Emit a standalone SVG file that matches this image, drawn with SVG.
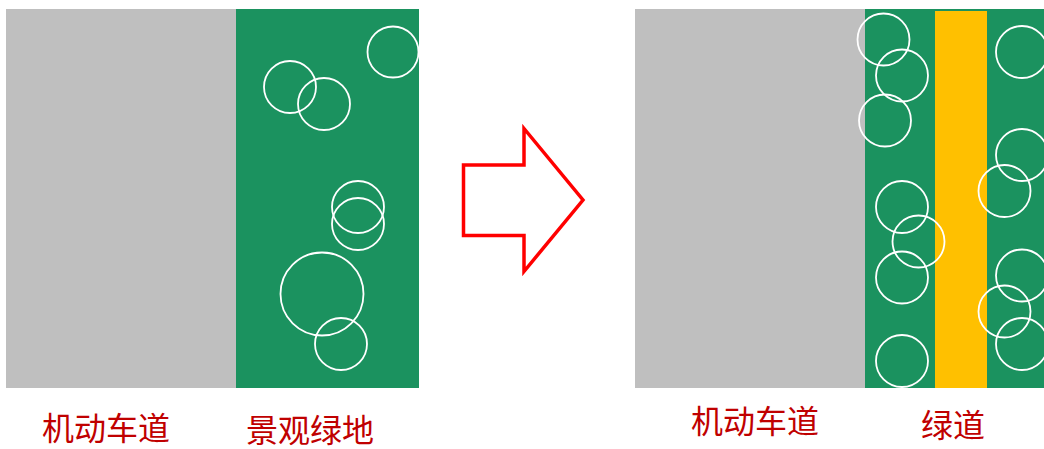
<svg xmlns="http://www.w3.org/2000/svg" width="1044" height="449" viewBox="0 0 1044 449">
<style>
.road{fill:#BFBFBF}
.green{fill:#1B925F}
.yellow{fill:#FFC000}
.tree{fill:none;stroke:#FFFFFF;stroke-width:1.8}
.lbl{font-family:"Noto Sans CJK SC","Noto Sans",sans-serif;font-size:32px;fill:#C00000}
.arrow{fill:#FFFFFF;stroke:#FF0000;stroke-width:3.5;stroke-linejoin:miter}
</style>
<rect width="1044" height="449" fill="#FFFFFF"/>
<g id="before">
  <rect class="road" x="6" y="9" width="230" height="379"/>
  <rect class="green" x="236" y="9" width="183" height="379"/>
  <g id="before-trees">
    <circle class="tree" cx="393" cy="52" r="25.5"/>
    <circle class="tree" cx="290" cy="87" r="26"/>
    <circle class="tree" cx="324" cy="104" r="26"/>
    <circle class="tree" cx="358" cy="207" r="26"/>
    <circle class="tree" cx="358" cy="224" r="26"/>
    <circle class="tree" cx="322" cy="294" r="41.5"/>
    <circle class="tree" cx="341" cy="344" r="26"/>
  </g>
  <text class="lbl" x="42" y="440">机动车道</text>
  <text class="lbl" x="246" y="442">景观绿地</text>
</g>
<g id="arrow">
  <polygon class="arrow" points="463.5,165 524,165 524,128.5 583,200 524,271.5 524,235.5 463.5,235.5"/>
</g>
<g id="after">
  <rect class="road" x="635" y="9" width="230" height="379"/>
  <rect class="green" x="865" y="9" width="179" height="379"/>
  <rect class="yellow" x="935" y="11" width="52" height="377"/>
  <g id="after-trees">
    <circle class="tree" cx="883.5" cy="39.5" r="26"/>
    <circle class="tree" cx="902" cy="75.5" r="26"/>
    <circle class="tree" cx="885" cy="120.5" r="26"/>
    <circle class="tree" cx="902" cy="207" r="26"/>
    <circle class="tree" cx="918.5" cy="241.5" r="26"/>
    <circle class="tree" cx="902" cy="277.5" r="26"/>
    <circle class="tree" cx="902" cy="361" r="26"/>
    <circle class="tree" cx="1022" cy="52" r="26"/>
    <circle class="tree" cx="1022" cy="155" r="26"/>
    <circle class="tree" cx="1004.5" cy="191" r="26"/>
    <circle class="tree" cx="1022" cy="275.5" r="26"/>
    <circle class="tree" cx="1004.5" cy="311.5" r="26"/>
    <circle class="tree" cx="1022" cy="344" r="26"/>
  </g>
  <text class="lbl" x="691" y="433">机动车道</text>
  <text class="lbl" x="921" y="437">绿道</text>
</g>
</svg>
